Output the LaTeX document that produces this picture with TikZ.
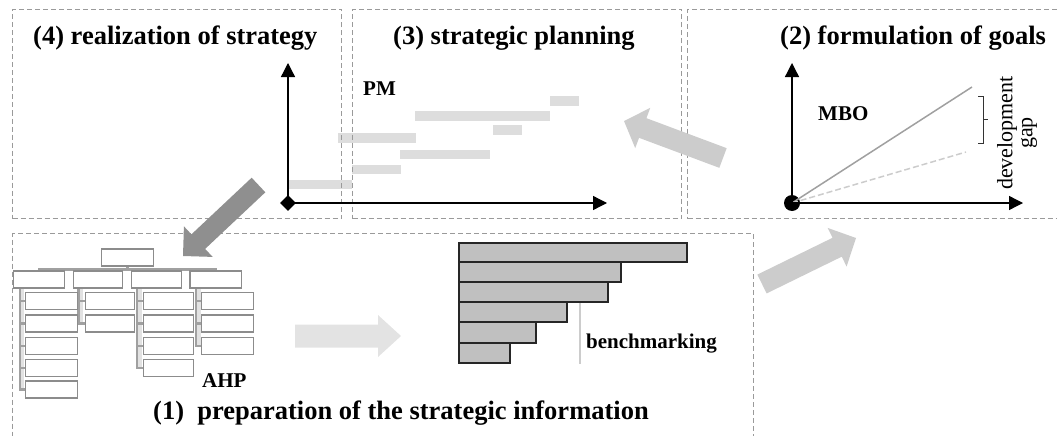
\documentclass[tikz,border=0pt]{standalone}
\usepackage{fontspec}
\setmainfont{Liberation Serif}
\usetikzlibrary{arrows.meta,calc,shapes.geometric}
\definecolor{panelgray}{HTML}{9A9A9A}
\definecolor{ganttgray}{HTML}{DDDDDD}
\definecolor{darkarrow}{HTML}{8F8F8F}
\definecolor{lightarrow}{HTML}{CCCCCC}
\definecolor{paler}{HTML}{E3E3E3}
\definecolor{barfill}{HTML}{C0C0C0}
\definecolor{boxline}{HTML}{8C8C8C}
\definecolor{connline}{HTML}{A0A0A0}
\definecolor{connshade}{HTML}{E2E2E2}
% #1 style, #2 tail, #3 tip, #4 half shaft, #5 half head, #6 head length
\newcommand\bigarr[6]{%
  \coordinate (#3m) at ($(#3)!#6!(#2)$);
  \fill[#1] ($(#2)!#4!90:(#3)$) -- ($(#3m)!#4!90:(#3)$) -- ($(#3m)!#5!90:(#3)$) -- (#3)
     -- ($(#3m)!#5!-90:(#3)$) -- ($(#3m)!#4!-90:(#3)$) -- ($(#2)!#4!-90:(#3)$) -- cycle;}
\begin{document}
\begin{tikzpicture}[x=1pt,y=-1pt,
  panel/.style={draw=panelgray, line width=1pt, dash pattern=on 5pt off 3pt, inner sep=0pt, anchor=north west},
  gantt/.style={fill=ganttgray},
  tbox/.style={draw=boxline, fill=white, line width=1.4pt, inner sep=0pt, minimum height=15.5pt},
  conn/.style={draw=connline, line width=2.4pt},
  shade/.style={draw=connshade, line width=4pt},
  bench/.style={draw=black!85, fill=barfill, line width=1.2pt},
  axis/.style={draw=black, line width=1.3pt, -{Triangle[length=14pt, width=14pt]}},
  title/.style={font=\fontsize{26.5}{30}\selectfont\bfseries, inner sep=0pt, anchor=base west},
  label/.style={font=\fontsize{21}{24}\selectfont\bfseries, inner sep=0pt, anchor=base west}
]
\useasboundingbox (0,0) rectangle (1057,436);
\clip (0,0) rectangle (1057,436);

% Gantt bars
\fill[gantt] (289,180) rectangle (352,189);
\fill[gantt] (338,133) rectangle (416,143);
\fill[gantt] (352,165) rectangle (401,174);
\fill[gantt] (400,150) rectangle (490,159);
\fill[gantt] (415,111) rectangle (550,121);
\fill[gantt] (493,125) rectangle (522,135);
\fill[gantt] (550,96) rectangle (579,106);

% panels
\node[panel, minimum width=329pt, minimum height=209pt] (p4) at (12,9) {};
\node[panel, minimum width=329pt, minimum height=209pt] (p3) at (352,9) {};
\node[panel, minimum width=400pt, minimum height=209pt] (p2) at (687,9) {};
\node[panel, minimum width=741pt, minimum height=240pt] (p1) at (12,233) {};

% titles
\node[title] (t4) at (33,45) {(4) realization of strategy};
\node[title] (t3) at (393,45) {(3) strategic planning};
\node[title] (t2) at (780,45) {(2) formulation of goals};
\node[title] (t1) at (153,419) {(1)\ \ preparation of the strategic information};

% axes panel 4/3
\node[diamond, fill=black, minimum width=16pt, minimum height=16pt, inner sep=0pt] (dia) at (288,203) {};
\coordinate (y4) at (288,63);
\coordinate (x3) at (607,203);
\draw[axis] (dia.center) -- (y4);
\draw[axis] (dia.center) -- (x3);
\node[label] (pm) at (363,95) {PM};

% panel 2
\node[circle, fill=black, minimum size=16pt, inner sep=0pt] (dot) at (792,203) {};
\coordinate (y2) at (792,63);
\coordinate (x2) at (1023,203);
\coordinate (goal) at (972,87);
\coordinate (real) at (966,152);
\draw[draw=connline, line width=1.5pt] (dot.center) -- (goal);
\draw[draw=lightarrow, line width=1.5pt, dash pattern=on 6pt off 3pt] (dot.center) -- (real);
\draw[axis] (dot.center) -- (x2);
\draw[axis] (dot.center) -- (y2);
\draw[line width=1pt, black!80] (978,96) -- (983,96) -- (983,143) -- (978,143);
\draw[line width=1pt, black!80] (983,119.5) -- (988,119.5);
\node[label] (mbo) at (818,120) {MBO};
\node[rotate=90, align=center, font=\fontsize{22}{20}\selectfont, inner sep=0pt] (dg) at (1017,133) {development\\gap};

% benchmarking
\draw[bench] (459,243) rectangle (687,262);
\draw[bench] (459,262) rectangle (621,282);
\draw[bench] (459,282) rectangle (608,302);
\draw[bench] (459,302) rectangle (567,322);
\draw[bench] (459,322) rectangle (536,343);
\draw[bench] (459,343) rectangle (510,363);
\draw[draw=lightarrow, line width=1.5pt] (580,303) -- (580,364);
\node[label] (bm) at (586,348) {benchmarking};

% AHP tree
\node[tbox, minimum width=51pt] (top) at (127.5,257.5) {};
\node[tbox, minimum width=50pt] (la) at (39,279.5) {};
\node[tbox, minimum width=48pt] (lb) at (98,279.5) {};
\node[tbox, minimum width=49pt] (lc) at (156.5,279.5) {};
\node[tbox, minimum width=50pt] (ld) at (215.5,279.5) {};
\foreach \r/\y in {1/301,2/323.5,3/346,4/368,5/389.5}{
  \node[tbox, minimum width=51pt] (a\r) at (51.5,\y) {};}
\foreach \r/\y in {1/301,2/323.5}{
  \node[tbox, minimum width=48pt] (b\r) at (110,\y) {};}
\foreach \r/\y in {1/301,2/323.5,3/346,4/368}{
  \node[tbox, minimum width=49pt] (c\r) at (168.5,\y) {};}
\foreach \r/\y in {1/301,2/323.5,3/346}{
  \node[tbox, minimum width=51pt] (d\r) at (227.5,\y) {};}
% shading beside vertical connectors
\draw[shade] ([xshift=9pt]la.south west) -- ([xshift=9pt]la.south west |- a5.west);
\draw[shade] ([xshift=8pt]lb.south west) -- ([xshift=8pt]lb.south west |- b2.west);
\draw[shade] ([xshift=9pt]lc.south west) -- ([xshift=9pt]lc.south west |- c4.west);
\draw[shade] ([xshift=9pt]ld.south west) -- ([xshift=9pt]ld.south west |- d3.west);
% connectors
\foreach \n in {la,lb,lc,ld}{\draw[conn] (top.south) -- ++(0,3.5) -| (\n.north);}
\foreach \r in {1,...,5}{\draw[conn] ([xshift=6.5pt]la.south west) |- (a\r.west);}
\foreach \r in {1,2}{\draw[conn] ([xshift=5pt]lb.south west) |- (b\r.west);}
\foreach \r in {1,...,4}{\draw[conn] ([xshift=5.5pt]lc.south west) |- (c\r.west);}
\foreach \r in {1,...,3}{\draw[conn] ([xshift=6pt]ld.south west) |- (d\r.west);}
% redraw boxes on top of connectors
\foreach \n in {top,la,lb,lc,ld,a1,a2,a3,a4,a5,b1,b2,c1,c2,c3,c4,d1,d2,d3}{
  \draw[draw=boxline, line width=1.4pt, fill=white] (\n.south west) rectangle (\n.north east);}
\node[label] (ahp) at (202,387) {AHP};

% big arrows
\coordinate (ta) at (723,158);  \coordinate (tb) at (624,121);
\coordinate (ua) at (258.5,185); \coordinate (ub) at (183,256);
\coordinate (va) at (762,284);  \coordinate (vb) at (856,238);
\coordinate (wa) at (295,336);  \coordinate (wb) at (401,336);
\bigarr{lightarrow}{ta}{tb}{10.5pt}{21.5pt}{20pt}
\bigarr{darkarrow}{ua}{ub}{10pt}{21pt}{21pt}
\bigarr{lightarrow}{va}{vb}{10.5pt}{21.5pt}{21pt}
\bigarr{paler}{wa}{wb}{11.5pt}{21pt}{23pt}
\end{tikzpicture}
\end{document}
